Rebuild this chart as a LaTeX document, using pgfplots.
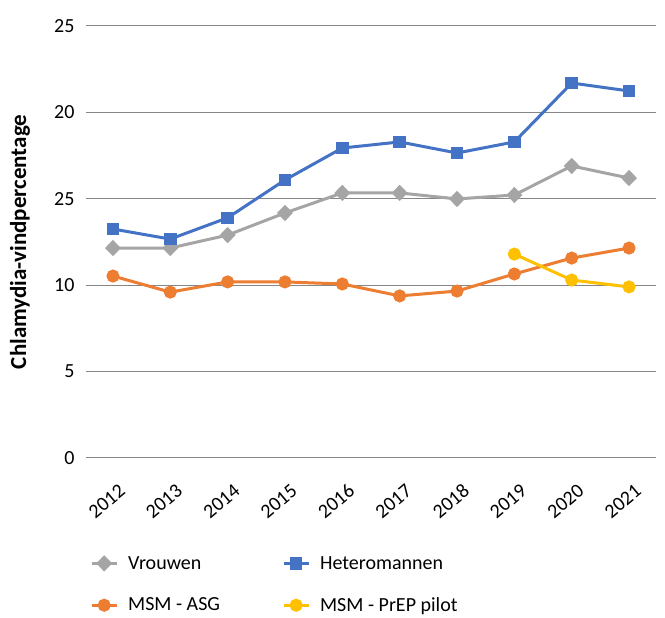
\documentclass[border=0pt]{standalone}
\usepackage{pgfplots}
\pgfplotsset{compat=1.18}
\usepackage{fontspec}
\setmainfont{Carlito}
\definecolor{cgray}{HTML}{A5A5A5}
\definecolor{cblue}{HTML}{4472C4}
\definecolor{corange}{HTML}{ED7D31}
\definecolor{cyellow}{HTML}{FFC000}
\definecolor{cgrid}{HTML}{868686}
\begin{document}
\begin{tikzpicture}
\useasboundingbox (-86pt,-160pt) rectangle (579pt,458pt);
\begin{axis}[
  at={(0,0)}, anchor=south west,
  scale only axis, width=570pt, height=432pt,
  xmin=-0.47, xmax=9.47, ymin=0, ymax=25,
  axis line style={draw=none},
  major tick length=0pt,
  ymajorgrids, grid style={cgrid, line width=1pt},
  ytick={0,5,10,15,20,25},
  yticklabels={0,5,10,25,20,25},
  xtick={0,...,9},
  xticklabels={2012,2013,2014,2015,2016,2017,2018,2019,2020,2021},
  /pgf/number format/assume math mode=true,
  tick label style={font=\fontsize{20}{24}\selectfont},
  y tick label style={anchor=east, xshift=-8pt},
  x tick label style={rotate=40, anchor=east, inner sep=0pt, xshift=-12pt, yshift=-29pt},
  ylabel={Chlamydia-vindpercentage},
  ylabel style={at={(axis description cs:-0.116,0.5)}, anchor=center, font=\fontsize{23}{26}\selectfont\bfseries},
  legend columns=2,
  legend cell align=left,
  legend style={at={(axis description cs:0,0)}, anchor=north west, xshift=4pt, yshift=-96pt, draw=none, inner sep=0pt, row sep=23pt, font=\fontsize{20}{24}\selectfont, /tikz/every odd column/.append style={column sep=8pt}, /tikz/every even column/.append style={column sep=60pt}},
  legend image code/.code={\draw[#1, mark repeat=2, mark phase=2] plot coordinates {(0pt,0pt) (12.5pt,0pt) (25pt,0pt)};},
]
\addplot[cgray, line width=3pt, mark=diamond*, mark size=6pt, mark options={xscale=1.3, solid}] coordinates {
(0,12.15) (1,12.15) (2,12.9) (3,14.18) (4,15.34) (5,15.34) (6,14.99) (7,15.22) (8,16.9) (9,16.2)};
\addlegendentry{Vrouwen}
\addplot[cblue, line width=3pt, mark=square*, mark size=4.75pt] coordinates {
(0,13.25) (1,12.67) (2,13.9) (3,16.09) (4,17.94) (5,18.29) (6,17.65) (7,18.29) (8,21.7) (9,21.24)};
\addlegendentry{Heteromannen}
\addplot[corange, line width=3pt, mark=*, mark size=5pt] coordinates {
(0,10.53) (1,9.6) (2,10.19) (3,10.19) (4,10.07) (5,9.38) (6,9.66) (7,10.65) (8,11.57) (9,12.15)};
\addlegendentry{MSM - ASG}
\addplot[cyellow, line width=3pt, mark=*, mark size=5pt] coordinates {
(7,11.8) (8,10.3) (9,9.9)};
\addlegendentry{MSM - PrEP pilot}
\end{axis}
\end{tikzpicture}
\end{document}
